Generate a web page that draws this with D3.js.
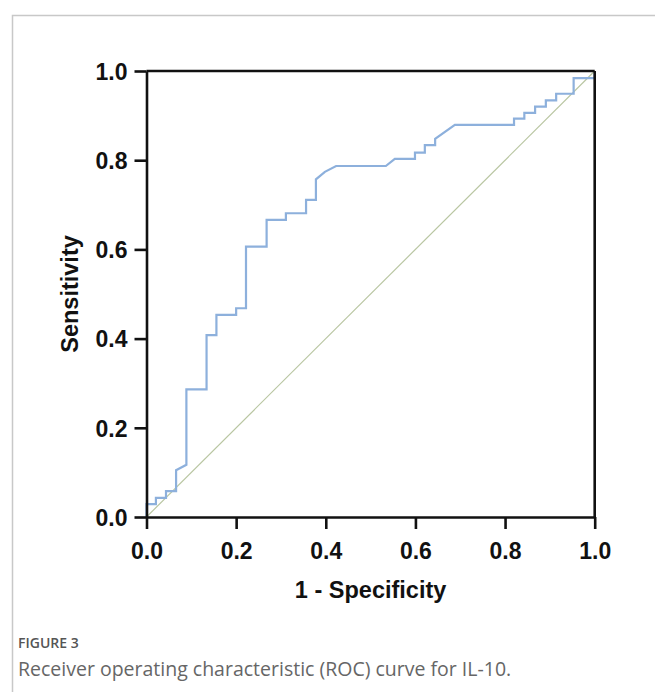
<!DOCTYPE html>
<html>
<head>
<meta charset="utf-8">
<script src="https://cdn.jsdelivr.net/npm/d3@7"></script>
<style>
  html, body { margin: 0; padding: 0; background: #fff; }
  svg { display: block; }
</style>
</head>
<body>
<svg id="chart" width="655" height="692"></svg>
<script>
// ROC curve vertices (1 - specificity, sensitivity)
const fpr  = [0, 0, 0.021, 0.021, 0.0435, 0.0435, 0.066, 0.066, 0.089, 0.089, 0.134, 0.134, 0.156, 0.156, 0.200, 0.200, 0.222, 0.222, 0.268, 0.268, 0.311, 0.311, 0.356, 0.356, 0.378, 0.378, 0.398, 0.423, 0.534, 0.554, 0.599, 0.599, 0.621, 0.621, 0.644, 0.644, 0.688, 0.820, 0.820, 0.843, 0.843, 0.867, 0.867, 0.891, 0.891, 0.914, 0.914, 0.953, 0.953, 1.0, 1.0];
const sens = [0, 0.029, 0.029, 0.043, 0.043, 0.058, 0.058, 0.105, 0.117, 0.286, 0.286, 0.408, 0.408, 0.453, 0.453, 0.468, 0.468, 0.606, 0.606, 0.666, 0.666, 0.681, 0.681, 0.711, 0.711, 0.757, 0.774, 0.787, 0.787, 0.803, 0.803, 0.817, 0.817, 0.834, 0.834, 0.848, 0.879, 0.879, 0.893, 0.893, 0.906, 0.906, 0.920, 0.920, 0.934, 0.934, 0.949, 0.949, 0.984, 0.984, 1.0];
const refLine = [[0, 0], [1, 1]];
const xTicks = [0, 0.2, 0.4, 0.6, 0.8, 1.0];
const yTicks = [0, 0.2, 0.4, 0.6, 0.8, 1.0];
const xTitle = "1 - Specificity";
const yTitle = "Sensitivity";
const figLabel = "FIGURE 3";
const caption = "Receiver operating characteristic (ROC) curve for IL-10.";

const svg = d3.select("#chart");

// page frame
svg.append("path")
  .attr("d", "M12.5,692 L12.5,15.5 L655,15.5")
  .attr("fill", "none").attr("stroke", "#c8c8c8").attr("stroke-width", 1.5);

const L = 146.5, R = 594.7, T = 71, B = 517;
const x = d3.scaleLinear().domain([0, 1]).range([L, R]);
const y = d3.scaleLinear().domain([0, 1]).range([B, T]);

const font = "'Liberation Sans', Arial, Helvetica, sans-serif";

// reference diagonal
svg.append("path")
  .datum(refLine)
  .attr("d", d3.line().x(d => x(d[0])).y(d => y(d[1])))
  .attr("fill", "none").attr("stroke", "#b9c6a2").attr("stroke-width", 1.2);

// ROC curve
const pts = fpr.map((f, i) => [f, sens[i]]);
svg.append("path")
  .datum(pts)
  .attr("d", d3.line().x(d => x(d[0])).y(d => y(d[1])))
  .attr("fill", "none").attr("stroke", "#8db0dc").attr("stroke-width", 2.2)
  .attr("stroke-linejoin", "miter");

// frame top/right
svg.append("line").attr("x1", L).attr("x2", R).attr("y1", T).attr("y2", T)
  .attr("stroke", "#111").attr("stroke-width", 2.6);
svg.append("line").attr("x1", R).attr("x2", R).attr("y1", T).attr("y2", B)
  .attr("stroke", "#111").attr("stroke-width", 2.6);

// axes
const xAxis = d3.axisBottom(x).tickValues(xTicks).tickFormat(d3.format(".1f")).tickSize(12).tickSizeOuter(0);
const yAxis = d3.axisLeft(y).tickValues(yTicks).tickFormat(d3.format(".1f")).tickSize(12).tickSizeOuter(0);

const gx = svg.append("g").attr("transform", `translate(0,${B})`).call(xAxis);
const gy = svg.append("g").attr("transform", `translate(${L},0)`).call(yAxis);

[gx, gy].forEach(g => {
  g.select(".domain").attr("stroke", "#111").attr("stroke-width", 2.6);
  g.selectAll(".tick line").attr("stroke", "#111").attr("stroke-width", 2.6);
  g.selectAll(".tick text")
    .attr("fill", "#111")
    .style("font-family", font)
    .style("font-weight", "bold")
    .style("font-size", "23px");
});
gx.selectAll(".tick text").attr("y", 26).attr("dy", "0.71em");
gy.selectAll(".tick text").attr("x", -19).attr("dy", "0.36em");

// axis titles
svg.append("text")
  .attr("x", (L + R) / 2).attr("y", 598)
  .attr("text-anchor", "middle")
  .style("font-family", font).style("font-weight", "bold").style("font-size", "23.5px")
  .attr("fill", "#111")
  .text(xTitle);

svg.append("text")
  .attr("transform", `translate(78,${(T + B) / 2}) rotate(-90)`)
  .attr("text-anchor", "middle")
  .style("font-family", font).style("font-weight", "bold").style("font-size", "23.5px")
  .attr("fill", "#111")
  .text(yTitle);

// caption
svg.append("text")
  .attr("x", 18).attr("y", 648)
  .style("font-family", "'Open Sans', sans-serif").style("font-size", "14px")
  .style("font-weight", "600")
  .attr("fill", "#555")
  .text(figLabel);

svg.append("text")
  .attr("x", 18).attr("y", 676)
  .style("font-family", "'Open Sans', sans-serif").style("font-size", "19.5px")
  .attr("fill", "#666")
  .text(caption);
</script>
</body>
</html>
